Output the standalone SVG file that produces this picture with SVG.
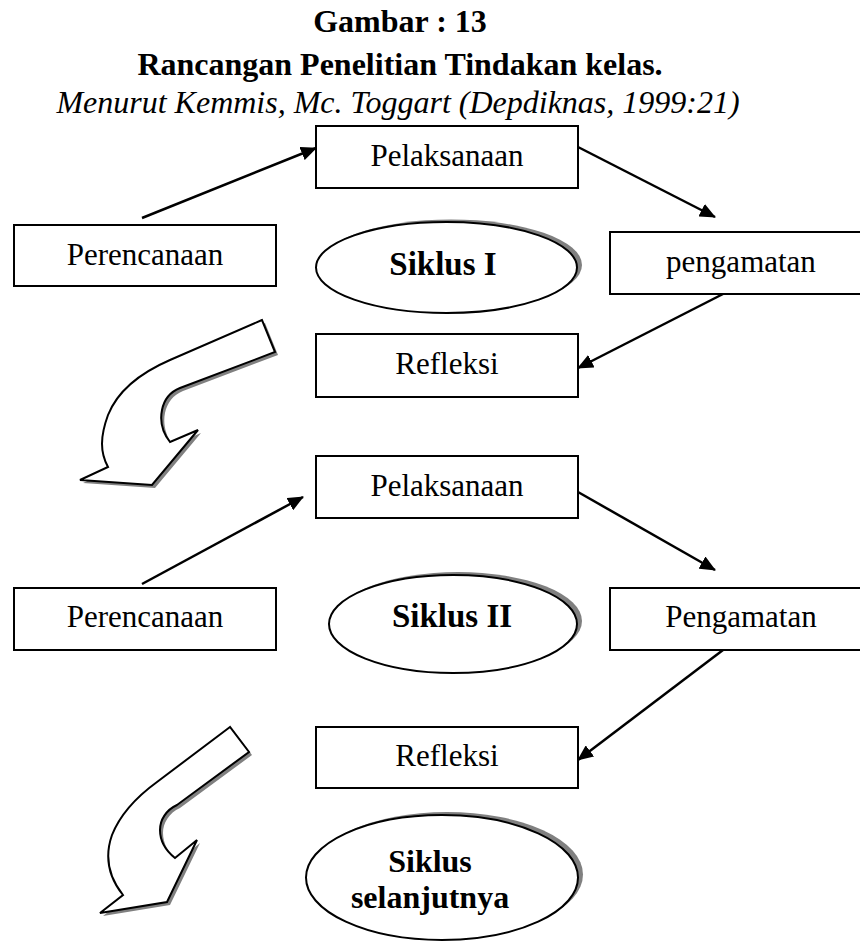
<svg xmlns="http://www.w3.org/2000/svg" width="860" height="942" viewBox="0 0 860 942">
<defs>
<style>
.t{font-family:"Liberation Serif","Times New Roman",serif;fill:#000}
.ttl{font-size:32px;font-weight:bold;text-anchor:middle}
.sub{font-size:32px;font-style:italic;text-anchor:middle}
.lbl{font-size:31px;text-anchor:middle}
.bl{font-size:33px;font-weight:bold;text-anchor:middle}
.box{fill:#fff;stroke:#000;stroke-width:2}
.ell{fill:#fff;stroke:#000;stroke-width:2}
.shd{fill:#808080;stroke:none}
.con{stroke:#000;stroke-width:2.5;fill:none}
.carrow{fill:#fff;stroke:#000;stroke-width:2;stroke-linejoin:miter}
</style>
<marker id="ah" viewBox="0 0 16 14" refX="15" refY="7" markerWidth="16" markerHeight="14" markerUnits="userSpaceOnUse" orient="auto">
<path d="M0,0 L16,7 L0,14 Z" fill="#000"/>
</marker>
</defs>
<rect width="860" height="942" fill="#fff"/>

<g id="title">
<text class="t ttl" x="400" y="32">Gambar : 13</text>
<text class="t ttl" x="400" y="75">Rancangan Penelitian Tindakan kelas.</text>
<text class="t sub" x="398" y="113">Menurut Kemmis, Mc. Toggart (Depdiknas, 1999:21)</text>
</g>

<g id="connectors">
<line class="con" x1="142" y1="218" x2="316" y2="148" marker-end="url(#ah)"/>
<line class="con" x1="578" y1="147" x2="715" y2="217" marker-end="url(#ah)"/>
<line class="con" x1="723" y1="294" x2="578" y2="368" marker-end="url(#ah)"/>
<line class="con" x1="142" y1="584" x2="303" y2="497" marker-end="url(#ah)"/>
<line class="con" x1="578" y1="492" x2="715" y2="570" marker-end="url(#ah)"/>
<line class="con" x1="723" y1="650" x2="578" y2="760" marker-end="url(#ah)"/>
</g>

<g id="pelaksanaan1">
<rect class="box" x="316" y="126" width="262" height="62"/>
<text class="t lbl" x="447" y="166">Pelaksanaan</text>
</g>
<g id="perencanaan1">
<rect class="box" x="14" y="225" width="262" height="61"/>
<text class="t lbl" x="145" y="265">Perencanaan</text>
</g>
<g id="siklus1">
<ellipse class="shd" cx="451" cy="265" rx="131" ry="45.5"/>
<ellipse class="ell" cx="446.5" cy="267.5" rx="130.5" ry="45.5"/>
<text class="t bl" x="443" y="275">Siklus I</text>
</g>
<g id="pengamatan1">
<rect class="box" x="610" y="232" width="262" height="62"/>
<text class="t lbl" x="741" y="272">pengamatan</text>
</g>
<g id="refleksi1">
<rect class="box" x="316" y="334" width="262" height="63"/>
<text class="t lbl" x="447" y="374">Refleksi</text>
</g>
<g id="curved-arrow1">
<path class="shd" transform="translate(3,3)" d="M262,320 L170,360 C140,373 118,390 108,415 C100,437 100,452 108,467 L80,480 L152,485 L198,430 L170,442 C162,432 160,420 162,410 C164,400 170,392 180,388 L275,352 Z"/>
<path class="carrow" d="M262,320 L170,360 C140,373 118,390 108,415 C100,437 100,452 108,467 L80,480 L152,485 L198,430 L170,442 C162,432 160,420 162,410 C164,400 170,392 180,388 L275,352 Z"/>
</g>

<g id="pelaksanaan2">
<rect class="box" x="316" y="456" width="262" height="62"/>
<text class="t lbl" x="447" y="496">Pelaksanaan</text>
</g>
<g id="perencanaan2">
<rect class="box" x="14" y="588" width="262" height="62"/>
<text class="t lbl" x="145" y="627">Perencanaan</text>
</g>
<g id="siklus2">
<ellipse class="shd" cx="458" cy="621" rx="124" ry="49"/>
<ellipse class="ell" cx="453" cy="624" rx="124" ry="49"/>
<text class="t bl" x="452" y="627">Siklus II</text>
</g>
<g id="pengamatan2">
<rect class="box" x="610" y="588" width="262" height="62"/>
<text class="t lbl" x="741" y="627">Pengamatan</text>
</g>
<g id="refleksi2">
<rect class="box" x="316" y="727" width="262" height="61"/>
<text class="t lbl" x="447" y="766">Refleksi</text>
</g>
<g id="curved-arrow2">
<path class="shd" transform="translate(3,3)" d="M230,727 L157,782 C135,798 120,815 112,835 C105,855 107,875 123,895 L100,913 L167,902 L197,840 L175,858 C165,850 160,840 160,830 C160,820 166,810 177,805 L249,752 Z"/>
<path class="carrow" d="M230,727 L157,782 C135,798 120,815 112,835 C105,855 107,875 123,895 L100,913 L167,902 L197,840 L175,858 C165,850 160,840 160,830 C160,820 166,810 177,805 L249,752 Z"/>
</g>

<g id="siklus-selanjutnya">
<ellipse class="shd" cx="447" cy="874.5" rx="136" ry="62.5"/>
<ellipse class="ell" cx="442" cy="877.5" rx="136" ry="62.5"/>
<text class="t ttl" x="430" y="872">Siklus</text>
<text class="t ttl" x="430" y="908">selanjutnya</text>
</g>
</svg>
